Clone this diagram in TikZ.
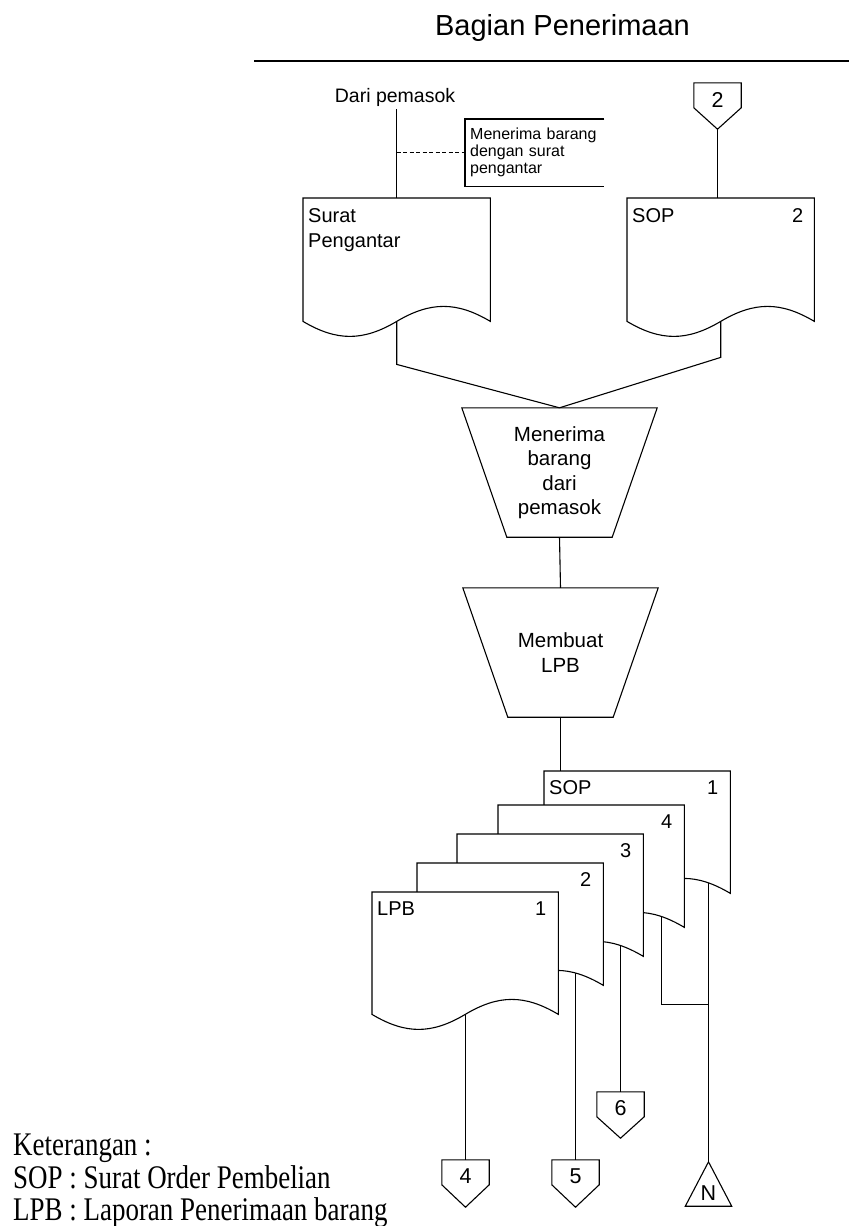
\documentclass[tikz,border=0pt]{standalone}
\usepackage{fontspec}
\setmainfont{Liberation Sans}
\newfontfamily\legendfont[FakeStretch=0.817]{Liberation Serif}
\usetikzlibrary{calc}
\pgfdeclarelayer{bg}
\pgfsetlayers{bg,main}
\newcommand{\fs}[2]{\fontsize{#1}{#2}\selectfont}
\newcommand{\drawdoc}[1]{%
  \filldraw[fill=white, ln] (#1.north west) -- (#1.north east) -- (#1.south east)
    .. controls ($(#1.south west)!0.82!(#1.south east)+(0,-20)$) and ($(#1.south west)!0.68!(#1.south east)+(0,-20)$) .. (#1.south)
    .. controls ($(#1.south west)!0.32!(#1.south east)+(0,20)$) and ($(#1.south west)!0.18!(#1.south east)+(0,20)$) .. (#1.south west) -- cycle;}
\newcommand{\drawtrap}[1]{%
  \draw[ln] (#1.north west) -- (#1.north east) -- ([xshift=-45pt]#1.south east) -- ([xshift=45pt]#1.south west) -- cycle;}
\newcommand{\drawpent}[1]{%
  \draw[ln] (#1.north west) -- (#1.north east) -- ([yshift=-25pt]#1.north east) -- (#1.south) -- ([yshift=-25pt]#1.north west) -- cycle;}
\tikzset{
  ln/.style={line width=1.1pt, line join=miter},
  docbox/.style={draw=none, inner sep=0pt, minimum width=187pt, minimum height=123pt, anchor=north west},
  stackdoc/.style={docbox, minimum width=186pt, minimum height=122pt},
  trapbox/.style={draw=none, inner sep=0pt, minimum width=195pt, minimum height=129pt, align=center, font=\fs{20.5}{24.5}},
  pentbox/.style={draw=none, inner sep=0pt, minimum width=47pt, minimum height=46pt},
  doctext/.style={inner sep=0pt, font=\fs{20}{25}, align=left},
  numtext/.style={inner sep=0pt, font=\fs{21.5}{24}},
  legend/.style={inner sep=0pt, anchor=base west, font=\legendfont\fs{33}{36}},
}
\begin{document}
\begin{tikzpicture}[x=1pt, y=-1pt]
\useasboundingbox (0,0) rectangle (849,1226);

% title and rule
\node[font=\fs{29}{34}, anchor=base, inner sep=0pt] (title) at (562.5,35) {Bagian Penerimaan};
\draw[line width=1.6pt] (254,61) -- (849,61);

% source
\node[font=\fs{19.5}{24}, anchor=base, inner sep=0pt] (dari) at (395,102) {Dari pemasok};
\node[anchor=north west, inner xsep=5pt, inner ysep=0pt, text width=129pt, minimum height=67pt, align=left, font=\fs{16}{17}] (ann) at (465,119) {Menerima barang\\dengan surat\\pengantar};
\draw[ln] (ann.north east) -- (ann.north west) -- (ann.south west) -- (ann.south east);

% off-page connector 2
\node[pentbox] (p2) at (717.5,106) {};
\drawpent{p2}
\node[numtext] at ([yshift=-17pt]p2.north) {2};

% top documents
\node[docbox] (dSP) at (303,198) {};
\drawdoc{dSP}
\node[doctext, anchor=base west] at ([xshift=5pt,yshift=-49pt]dSP.north west) {Surat\\Pengantar};

\node[docbox] (dSOP) at (627,198) {};
\drawdoc{dSOP}
\node[doctext, anchor=base west] at ([xshift=5pt,yshift=-24pt]dSOP.north west) {SOP};
\node[doctext, anchor=base east] at ([xshift=-11pt,yshift=-24pt]dSOP.north east) {2};

% processes
\node[trapbox] (t1) at (559.5,472.5) {Menerima\\barang\\dari\\pemasok};
\drawtrap{t1}
\node[trapbox] (t2) at (560.5,652.5) {Membuat\\LPB};
\drawtrap{t2}

% stacked documents (back to front)
\node[stackdoc] (d5) at (544,771) {};
\drawdoc{d5}
\node[doctext, anchor=base west] at ([xshift=5pt,yshift=-23pt]d5.north west) {SOP};
\node[doctext, anchor=base east] at ([xshift=-12pt,yshift=-23pt]d5.north east) {1};

\node[stackdoc] (d4) at (498,805) {};
\drawdoc{d4}
\node[doctext, anchor=base east] at ([xshift=-12pt,yshift=-23pt]d4.north east) {4};

\node[stackdoc] (d3) at (457,834) {};
\drawdoc{d3}
\node[doctext, anchor=base east] at ([xshift=-12pt,yshift=-23pt]d3.north east) {3};

\node[stackdoc] (d2) at (417,863) {};
\drawdoc{d2}
\node[doctext, anchor=base east] at ([xshift=-12pt,yshift=-23pt]d2.north east) {2};

\node[stackdoc] (d1) at (372,892) {};
\drawdoc{d1}
\node[doctext, anchor=base west] at ([xshift=5pt,yshift=-23pt]d1.north west) {LPB};
\node[doctext, anchor=base east] at ([xshift=-12pt,yshift=-23pt]d1.north east) {1};

% off-page connectors at the bottom
\node[pentbox, minimum height=47pt] (p4) at (465.5,1183.5) {};
\drawpent{p4}
\node[numtext] at ([yshift=-16pt]p4.north) {4};
\node[pentbox, minimum height=47pt] (p5) at (575.5,1183.5) {};
\drawpent{p5}
\node[numtext] at ([yshift=-16pt]p5.north) {5};
\node[pentbox] (p6) at (620.5,1115) {};
\drawpent{p6}
\node[numtext] at ([yshift=-16pt]p6.north) {6};

% file symbol N
\node[draw=none, inner sep=0pt, minimum width=46pt, minimum height=44pt] (pN) at (708.5,1184) {};
\draw[ln] (pN.north) -- (pN.south east) -- (pN.south west) -- cycle;
\node[numtext] at ([yshift=13pt]pN.south) {N};

\coordinate (k4) at (661.5,1004.5);

% connectors
\begin{pgfonlayer}{bg}
\fill[white] (0,0) rectangle (849,1226);
\draw[ln] (dari.south -| dSP.north) ++(0,3) -- (dSP.north);
\draw[ln, dash pattern=on 4pt off 2.5pt] (ann.west -| dSP.north) -- (ann.west);
\draw[ln] (p2.south) -- (p2.south |- dSOP.north);
\draw[ln] (dSP.south) -- ++(0,43) -- (t1.north);
\draw[ln] (dSOP.south) -- ++(0,36) -- (t1.north);
\draw[ln] (t1.south) -- (t2.north);
\draw[ln] (t2.south) -- (t2.south |- d5.north);
\draw[ln] (p4.north |- d1.center) -- (p4.north);
\draw[ln] (p5.north |- d2.center) -- (p5.north);
\draw[ln] (p6.north |- d3.center) -- (p6.north);
\draw[ln] (pN.north |- d5.center) -- (pN.north);
\draw[ln] (k4 |- d4.center) -- (k4) -- (k4 -| pN.north);
\end{pgfonlayer}

% legend
\node[legend] (leg1) at (13,1155) {Keterangan :};
\node[legend] (leg2) at (13,1188) {SOP : Surat Order Pembelian};
\node[legend] (leg3) at (13,1220) {LPB : Laporan Penerimaan barang};
\end{tikzpicture}
\end{document}
